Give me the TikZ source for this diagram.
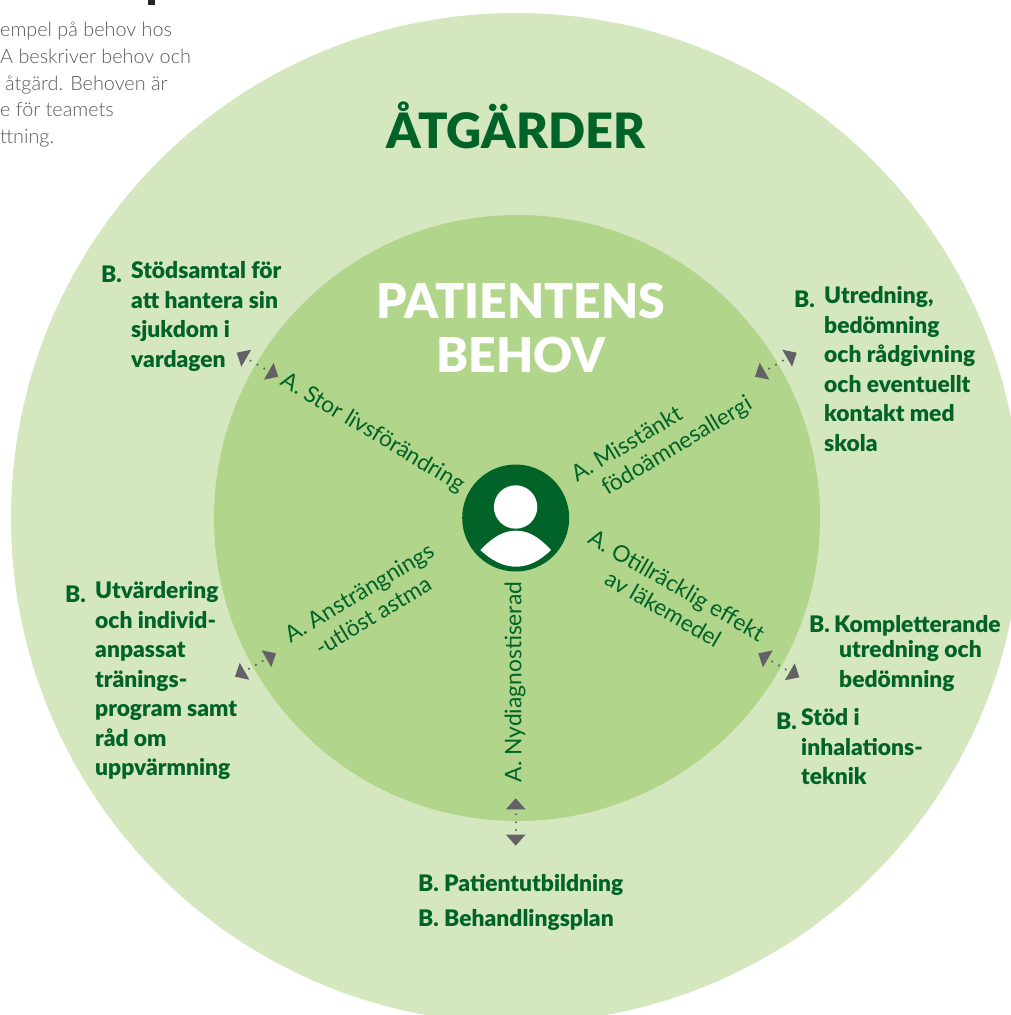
\documentclass[tikz,border=0pt]{standalone}
\usepackage{fontspec}
\usetikzlibrary{arrows.meta}
\setmainfont{Lato}
\newfontfamily\lightf{Lato Light}
\newfontfamily\blackf{Lato Black}
\definecolor{outerg}{HTML}{D5E7BF}
\definecolor{innerg}{HTML}{B0D58B}
\definecolor{darkg}{HTML}{016328}
\definecolor{arrowg}{HTML}{636066}
\definecolor{introg}{HTML}{58595B}
\tikzset{
  x=1pt,y=-1pt,
  introtext/.style={anchor=base west,text=introg,font=\lightf\fontsize{19.8}{20}\selectfont,inner sep=0pt},
  needtext/.style={text=darkg,font=\fontsize{22.8}{27}\selectfont,inner sep=0pt,align=center},
  acttext/.style={anchor=north west,yshift=20.65pt,text=darkg,font=\blackf\fontsize{22.8}{29.5}\selectfont,inner sep=0pt,align=left,execute at begin node=\strut},
  flow/.style={arrowg,line width=2.4pt,line cap=round,dash pattern=on 0.01pt off 7.9pt,dash phase=2.9pt,{Triangle[width=19.5pt,length=11pt,fill=arrowg,line width=0pt]}-{Triangle[width=19.5pt,length=11pt,fill=arrowg,line width=0pt]}},
}
\begin{document}
\begin{tikzpicture}
\useasboundingbox (0,0) rectangle (1011,1015);
\clip (0,0) rectangle (1011,1015);
\fill[outerg] (516,518) circle (505);
\fill[innerg] (517,518) circle (303);
\fill[darkg] (515.7,518) circle (53.5);
\fill[white] (515.6,507) circle (21.7);
\fill[white] (480.3,550) .. controls (495,535) and (505,530.7) .. (516,530.7) .. controls (527,530.7) and (537,535) .. (551,550) .. controls (540,561) and (528,566.7) .. (516,566.7) .. controls (504,566.7) and (492,561) .. (480.3,550) -- cycle;
\fill[black!85] (148,0) rectangle (155,5);
\node[introtext] (i1) at (0,36) {empel på behov hos};
\node[introtext] (i2) at (0,63) {A beskriver behov och};
\node[introtext] (i3) at (5,90) {åtgärd. Behoven är};
\node[introtext] (i4) at (0,116) {e för teamets};
\node[introtext] (i5) at (0,143) {ttning.};
\node[anchor=base,text=darkg,font=\blackf\fontsize{48.7}{50}\selectfont,inner sep=0pt] (title) at (516,148) {ÅTGÄRDER};
\node[anchor=base,text=white,font=\blackf\fontsize{48}{48}\selectfont,inner sep=0pt] (pa) at (521,318) {PATIENTENS};
\node[anchor=base,text=white,font=\blackf\fontsize{48}{48}\selectfont,inner sep=0pt] (pb) at (521,372) {BEHOV};
\coordinate (a1s) at (236.7,352.7); \coordinate (a1e) at (278.3,376.7);
\coordinate (a2s) at (796.7,352.7); \coordinate (a2e) at (755,376.7);
\coordinate (a3s) at (235,676.7); \coordinate (a3e) at (276,653.3);
\coordinate (a4s) at (758.3,653.3); \coordinate (a4e) at (799.3,677.3);
\coordinate (a5s) at (515.7,798.3); \coordinate (a5e) at (515.7,845.7);
\draw[flow] (a1s) -- (a1e);
\draw[flow] (a2s) -- (a2e);
\draw[flow] (a3s) -- (a3e);
\draw[flow] (a4s) -- (a4e);
\draw[flow] (a5s) -- (a5e);
\node[needtext,rotate=-31] (n1) at (373,433) {A. Stor livsförändring};
\node[needtext,rotate=31,align=left] (n2) at (662,440) {A. Misstänkt\\\hspace*{19pt}födoämnesallergi};
\node[needtext,rotate=31] (n3) at (366,604) {A. Ansträngnings\\-utlöst astma};
\node[needtext,rotate=-30] (n4) at (670,597) {A. Otillräcklig effekt\\av läkemedel};
\node[needtext,rotate=90] (n5) at (515,682) {A. Nydiagnostiserad};
\node[acttext] (b1a) at (101,282) {B.};
\node[acttext] (b1) at (131,282) {Stödsamtal för\\att hantera sin\\sjukdom i\\vardagen};
\node[acttext] (b2a) at (794,307) {B.};
\node[acttext] (b2) at (824,307) {Utredning,\\bedömning\\och rådgivning\\och eventuellt\\kontakt med\\skola};
\node[acttext] (b3a) at (65,602) {B.};
\node[acttext] (b3) at (95,602) {Utvärdering\\och individ-\\anpassat\\tränings-\\program samt\\råd om\\uppvärmning};
\node[acttext] (b4a) at (809,632) {B.};
\node[acttext] (b4) at (834,632) {Kompletterande};
\node[acttext] (b4b) at (839,661) {utredning och\\bedömning};
\node[acttext] (b5a) at (776,729) {B.};
\node[acttext] (b5) at (801,729) {Stöd i\\inhalations-\\teknik};
\node[acttext] (b6) at (418,891) {B. Patientutbildning};
\node[acttext] (b7) at (418,926) {B. Behandlingsplan};
\end{tikzpicture}
\end{document}
